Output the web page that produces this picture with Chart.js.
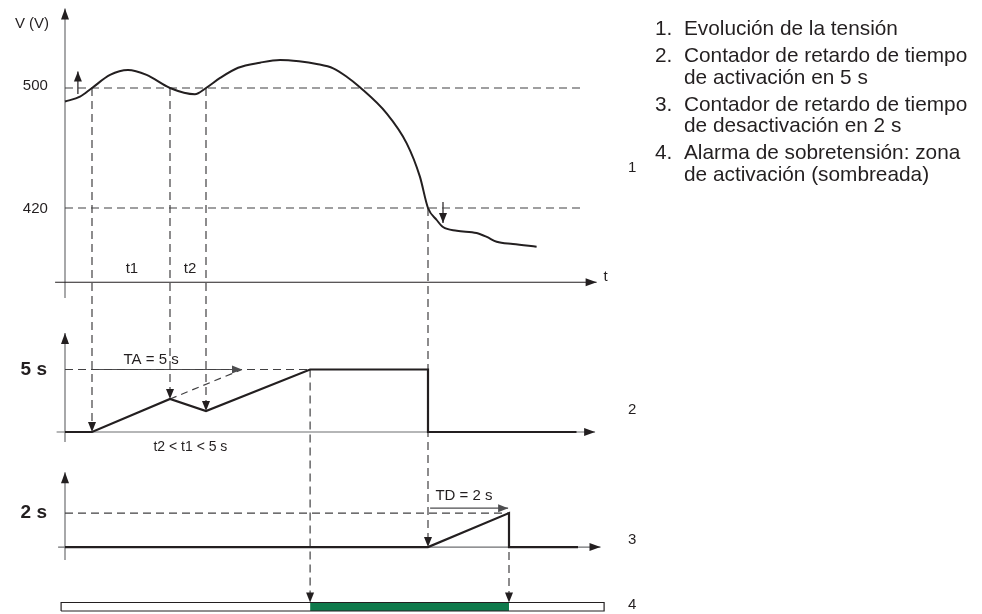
<!DOCTYPE html>
<html>
<head>
<meta charset="utf-8">
<script src="https://cdn.jsdelivr.net/npm/chart.js@4.4.1/dist/chart.umd.min.js"></script>
<style>
  body { margin: 0; background: #fff; }
  #wrap { position: relative; width: 982px; height: 614px; }
  #legend { position: absolute; left: 655px; top: 17px; margin: 0; padding: 0; list-style: none;
            font-family: "Liberation Sans", Arial, sans-serif; font-size: 20.8px; line-height: 21.5px; color: #231f20; }
  #legend li { display: flex; margin-bottom: 5.5px; }
  #legend .n { width: 29px; flex: none; }
</style>
</head>
<body>
<div id="wrap">
  <canvas id="chart" width="982" height="614"></canvas>
  <ul id="legend"></ul>
</div>
<script>
// time in seconds, voltage in V
const voltTime = [0, 0.5, 0.9, 1.5, 2.1, 2.72, 3.5, 4.33, 4.7, 5.17, 5.77, 6.5, 7.17, 7.8, 8.39, 8.94, 9.39, 9.83, 10.72, 11.39, 11.83, 12.1, 12.39, 12.6, 13.06, 13.72, 14.06, 14.39, 14.93, 15.72];
const voltValues = [491, 494.2, 500, 508.7, 512, 508.7, 500, 495.8, 500, 506.7, 513.5, 516.9, 518.7, 517.8, 516, 513.1, 507.5, 500.5, 483.1, 463.1, 440.9, 420, 412, 407.3, 404.9, 403.3, 400.7, 397.5, 396, 394.2];
const voltTicks = [500, 420];

// activation delay counter (panel 2)
const activationTime = [0, 0.9, 3.5, 4.7, 8.17, 12.1, 12.1, 17.05];
const activationValues = [0, 0, 2.64, 1.68, 5, 5, 0, 0];
const activationDelay = 5;

// deactivation delay counter (panel 3)
const deactivationTime = [0, 12.1, 14.8, 14.8, 17.1];
const deactivationValues = [0, 0, 2, 0, 0];
const deactivationDelay = 2;

// alarm zone (panel 4)
const alarmOn = 8.17;
const alarmOff = 14.8;

// vertical dashed guides: time, from axis/value, to axis/value
const guideTime = [0.9, 3.5, 4.7, 12.1, 8.17, 14.8];
const guideFromAxis = ['yV', 'yV', 'yV', 'yV', 'yA', 'yD'];
const guideFromValue = [500, 500, 500, 420, 5, 2];
const guideToAxis = ['yA', 'yA', 'yA', 'yD', 'yAlarm', 'yAlarm'];
const guideToValue = [0, 2.64, 1.68, 0, 1.15, 1.15];

const legendItems = [
  ['Evolución de la tensión'],
  ['Contador de retardo de tiempo', 'de activación en 5 s'],
  ['Contador de retardo de tiempo', 'de desactivación en 2 s'],
  ['Alarma de sobretensión: zona', 'de activación (sombreada)']
];

const ink = '#231f20';
const grey = '#6d6e71';
const dashGrey = '#414042';
const green = '#0f7a4c';
const FONT = '"Liberation Sans", Arial, sans-serif';

legendItems.forEach((lines, i) => {
  const li = document.createElement('li');
  li.innerHTML = '<span class="n">' + (i + 1) + '.</span><span>' + lines.join('<br>') + '</span>';
  document.getElementById('legend').appendChild(li);
});

function pts(xs, ys) {
  return xs.map((x, i) => ({ x: x, y: ys[i] }));
}

function line(data, axis, opts) {
  return Object.assign({
    type: 'line', data: data, yAxisID: axis, borderColor: ink, borderWidth: 1.2,
    pointRadius: 0, tension: 0, fill: false
  }, opts || {});
}

function arrowHead(ctx, x1, y1, x2, y2, len, half) {
  const a = Math.atan2(y2 - y1, x2 - x1);
  ctx.save();
  ctx.translate(x2, y2);
  ctx.rotate(a);
  ctx.beginPath();
  ctx.moveTo(0, 0);
  ctx.lineTo(-len, -half);
  ctx.lineTo(-len, half);
  ctx.closePath();
  ctx.fill();
  ctx.restore();
}

const datasets = [
  // alarm bar outline (drawn on top of the green zone)
  line([{x: -0.13, y: 0.3}, {x: 17.97, y: 0.3}, {x: 17.97, y: 1.15}, {x: -0.13, y: 1.15}, {x: -0.13, y: 0.3}], 'yAlarm', {borderColor: ink}),
  line([{x: alarmOn, y: 1.15}, {x: alarmOff, y: 1.15}], 'yAlarm', {borderWidth: 0, fill: {value: 0.3}, backgroundColor: green}),

  line(pts(voltTime, voltValues), 'yV', {borderWidth: 2, cubicInterpolationMode: 'monotone'}),
  line(pts(activationTime, activationValues), 'yA', {borderWidth: 2.2}),
  line(pts(deactivationTime, deactivationValues), 'yD', {borderWidth: 2.2}),

  // threshold levels
  line([{x: 0, y: voltTicks[0]}, {x: 17.33, y: voltTicks[0]}], 'yV', {borderColor: dashGrey, borderDash: [8, 5]}),
  line([{x: 0, y: voltTicks[1]}, {x: 17.33, y: voltTicks[1]}], 'yV', {borderColor: dashGrey, borderDash: [8, 5]}),
  line([{x: 0, y: activationDelay}, {x: alarmOn, y: activationDelay}], 'yA', {borderColor: dashGrey, borderDash: [8, 5]}),
  line([{x: 0, y: deactivationDelay}, {x: alarmOff, y: deactivationDelay}], 'yD', {borderColor: dashGrey, borderDash: [8, 5]}),

  // TA / TD arrows and projected ramp
  line([{x: 0.9, y: activationDelay}, {x: 0.9 + activationDelay, y: activationDelay}], 'yA', {borderColor: '#4d4d4f', arrow: true}),
  line([{x: 3.5, y: 2.64}, {x: 0.9 + activationDelay, y: activationDelay}], 'yA', {borderColor: dashGrey, borderDash: [7, 5]}),
  line([{x: 12.17, y: 2.29}, {x: 14.77, y: 2.29}], 'yD', {borderColor: '#4d4d4f', arrow: true}),

  // small threshold-crossing arrows
  line([{x: 0.43, y: 496}, {x: 0.43, y: 511}], 'yV', {arrow: true}),
  line([{x: 12.6, y: 424}, {x: 12.6, y: 410}], 'yV', {arrow: true})
];

const axisLines = [
  {axis: 'yV', from: [0, 360], to: [0, 553], color: grey},
  {axis: 'yV', from: [-0.33, 370.5], to: [17.72, 370.5], color: ink},
  {axis: 'yA', from: [0, -0.8], to: [0, 7.92], color: grey},
  {axis: 'yA', from: [-0.28, 0], to: [17.67, 0], color: grey},
  {axis: 'yD', from: [0, -0.76], to: [0, 4.41], color: grey},
  {axis: 'yD', from: [-0.23, 0], to: [17.85, 0], color: grey}
];

const texts = [
  {text: 'V (V)', axis: 'yV', t: -0.53, v: 542.7, align: 'right', font: '15px'},
  {text: String(voltTicks[0]), axis: 'yV', t: -0.57, v: voltTicks[0] + 1.5, align: 'right', font: '15px'},
  {text: String(voltTicks[1]), axis: 'yV', t: -0.57, v: voltTicks[1] - 0.5, align: 'right', font: '15px'},
  {text: 't1', axis: 'yV', t: 2.23, v: 379.3, align: 'center', font: '15px'},
  {text: 't2', axis: 'yV', t: 4.17, v: 379.3, align: 'center', font: '15px'},
  {text: 't', axis: 'yV', t: 17.95, v: 374, align: 'left', font: '15px'},
  {text: 'TA = 5 s', axis: 'yA', t: 2.87, v: 5.76, align: 'center', font: '15px'},
  {text: 't2 < t1 < 5 s', axis: 'yA', t: 4.18, v: -1.18, align: 'center', font: '14px'},
  {text: activationDelay + ' s', axis: 'yA', t: -0.6, v: activationDelay, align: 'right', font: 'bold 19px'},
  {text: 'TD = 2 s', axis: 'yD', t: 13.3, v: 3.0, align: 'center', font: '15px'},
  {text: deactivationDelay + ' s', axis: 'yD', t: -0.6, v: deactivationDelay, align: 'right', font: 'bold 19px'},
  {text: '1', axis: 'yV', t: 18.77, v: 446.7, align: 'left', font: '15px'},
  {text: '2', axis: 'yA', t: 18.77, v: 1.76, align: 'left', font: '15px'},
  {text: '3', axis: 'yD', t: 18.77, v: 0.41, align: 'left', font: '15px'},
  {text: '4', axis: 'yAlarm', t: 18.77, v: 0.9, align: 'left', font: '15px'}
];

const diagramPlugin = {
  id: 'diagram',
  beforeDatasetsDraw(chart) {
    const ctx = chart.ctx;
    const xs = chart.scales.x;
    ctx.save();
    ctx.lineWidth = 1.2;
    axisLines.forEach(a => {
      const ys = chart.scales[a.axis];
      const x1 = xs.getPixelForValue(a.from[0]), y1 = ys.getPixelForValue(a.from[1]);
      const x2 = xs.getPixelForValue(a.to[0]), y2 = ys.getPixelForValue(a.to[1]);
      ctx.strokeStyle = a.color;
      ctx.beginPath();
      ctx.moveTo(x1, y1);
      ctx.lineTo(x2, y2);
      ctx.stroke();
      ctx.fillStyle = ink;
      arrowHead(ctx, x1, y1, x2, y2, 11, 4);
    });
    ctx.strokeStyle = dashGrey;
    ctx.setLineDash([8, 5]);
    guideTime.forEach((t, i) => {
      const x = xs.getPixelForValue(t);
      const y1 = chart.scales[guideFromAxis[i]].getPixelForValue(guideFromValue[i]);
      const y2 = chart.scales[guideToAxis[i]].getPixelForValue(guideToValue[i]);
      ctx.beginPath();
      ctx.moveTo(x, y1);
      ctx.lineTo(x, y2 - 8);
      ctx.stroke();
    });
    ctx.setLineDash([]);
    ctx.fillStyle = ink;
    guideTime.forEach((t, i) => {
      const x = xs.getPixelForValue(t);
      const y1 = chart.scales[guideFromAxis[i]].getPixelForValue(guideFromValue[i]);
      const y2 = chart.scales[guideToAxis[i]].getPixelForValue(guideToValue[i]);
      arrowHead(ctx, x, y1, x, y2, 10, 4);
    });
    ctx.restore();
  },
  afterDatasetsDraw(chart) {
    const ctx = chart.ctx;
    const xs = chart.scales.x;
    ctx.save();
    chart.data.datasets.forEach((ds, i) => {
      if (!ds.arrow) return;
      const p = chart.getDatasetMeta(i).data;
      const a = p[p.length - 2], b = p[p.length - 1];
      ctx.fillStyle = ds.borderColor;
      arrowHead(ctx, a.x, a.y, b.x, b.y, 10, 4);
    });
    ctx.fillStyle = ink;
    ctx.textBaseline = 'middle';
    texts.forEach(tx => {
      ctx.font = tx.font + ' ' + FONT;
      ctx.textAlign = tx.align;
      ctx.fillText(tx.text, xs.getPixelForValue(tx.t), chart.scales[tx.axis].getPixelForValue(tx.v));
    });
    ctx.restore();
  }
};

new Chart(document.getElementById('chart'), {
  type: 'scatter',
  data: { datasets: datasets },
  options: {
    responsive: false,
    animation: false,
    events: [],
    layout: { padding: { left: 55, right: 377, top: 4, bottom: 0 } },
    plugins: { legend: { display: false }, tooltip: { enabled: false } },
    scales: {
      x: { type: 'linear', min: -1 / 3, max: 18, display: false },
      yV: { type: 'linear', position: 'left', stack: 'panels', stackWeight: 303, weight: 4, min: 354, max: 556, display: false },
      yA: { type: 'linear', position: 'left', stack: 'panels', stackWeight: 150, weight: 3, min: -2, max: 10, display: false },
      yD: { type: 'linear', position: 'left', stack: 'panels', stackWeight: 115.6, weight: 2, min: -1.5, max: 5.3, display: false },
      yAlarm: { type: 'linear', position: 'left', stack: 'panels', stackWeight: 41.4, weight: 1, min: 0, max: 4.14, display: false }
    }
  },
  plugins: [diagramPlugin]
});
</script>
</body>
</html>
